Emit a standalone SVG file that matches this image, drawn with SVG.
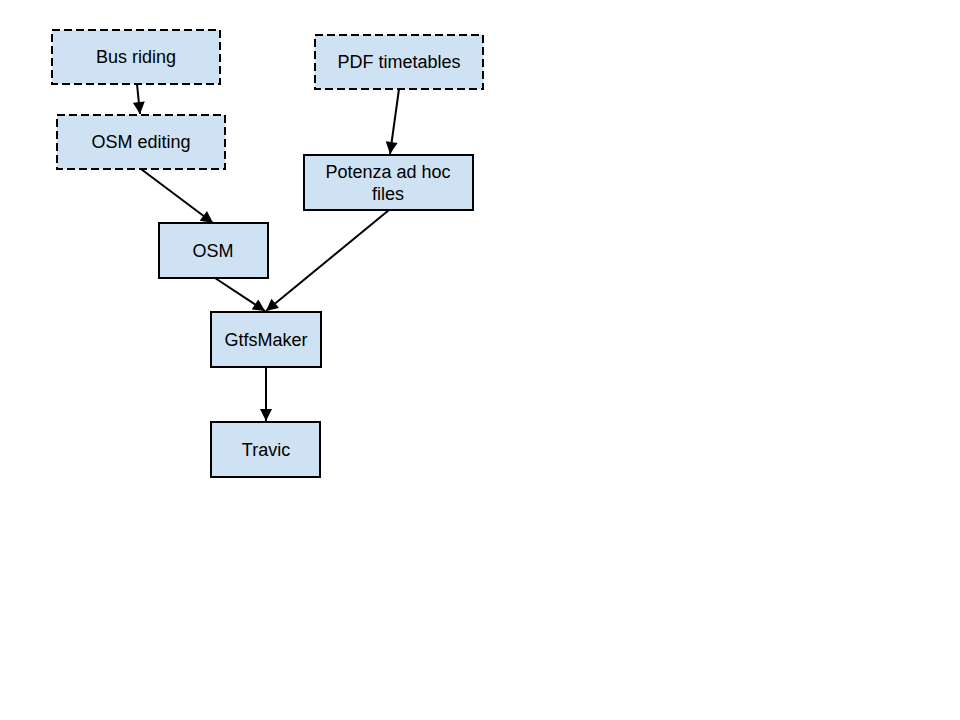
<svg xmlns="http://www.w3.org/2000/svg" width="960" height="720" viewBox="0 0 960 720">
<style>
.box{fill:#cfe2f3;stroke:#000;stroke-width:2}
.dash{stroke-dasharray:8,4}
.lbl{font-family:"Liberation Sans",Arial,sans-serif;font-size:18px;fill:#000;text-anchor:middle}
.edge{stroke:#000;stroke-width:2;fill:none;marker-end:url(#ah)}
</style>
<defs>
<marker id="ah" viewBox="0 0 10 10" refX="10" refY="5" markerWidth="6.5" markerHeight="6" orient="auto" markerUnits="strokeWidth">
<path d="M0,0 L10,5 L0,10 z" fill="#000"/>
</marker>
</defs>
<rect width="960" height="720" fill="#fff"/>
<g id="connectors">
<line class="edge" x1="137" y1="84" x2="140" y2="114"/>
<line class="edge" x1="141" y1="169" x2="213" y2="223"/>
<line class="edge" x1="399" y1="89" x2="390" y2="154"/>
<line class="edge" x1="389" y1="210" x2="266" y2="311"/>
<line class="edge" x1="215" y1="278" x2="265" y2="311"/>
<line class="edge" x1="266" y1="367" x2="266" y2="421"/>
</g>
<g id="bus-riding">
<rect class="box dash" x="52" y="30" width="168" height="54"/>
<text class="lbl" x="136" y="63">Bus riding</text>
</g>
<g id="osm-editing">
<rect class="box dash" x="57" y="115" width="168" height="54"/>
<text class="lbl" x="141" y="148">OSM editing</text>
</g>
<g id="pdf-timetables">
<rect class="box dash" x="315" y="35" width="168" height="54"/>
<text class="lbl" x="399" y="68">PDF timetables</text>
</g>
<g id="potenza">
<rect class="box" x="304" y="155" width="169" height="55"/>
<text class="lbl" x="388" y="178">Potenza ad hoc</text>
<text class="lbl" x="388" y="200">files</text>
</g>
<g id="osm">
<rect class="box" x="159" y="223" width="109" height="55"/>
<text class="lbl" x="213" y="257">OSM</text>
</g>
<g id="gtfsmaker">
<rect class="box" x="211" y="312" width="110" height="55"/>
<text class="lbl" x="266" y="346">GtfsMaker</text>
</g>
<g id="travic">
<rect class="box" x="211" y="422" width="109" height="55"/>
<text class="lbl" x="266" y="456">Travic</text>
</g>
</svg>
